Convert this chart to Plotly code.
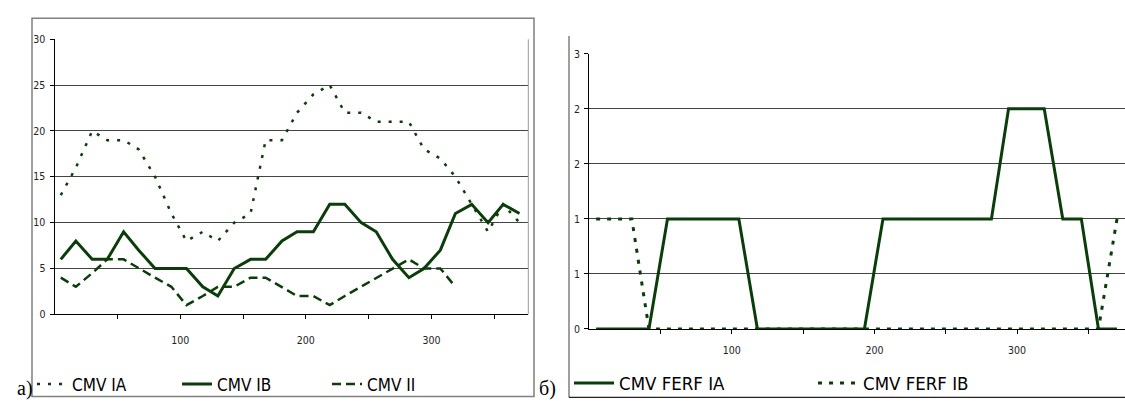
import plotly.graph_objects as go

# ---------------- data ----------------
DAYS = [5, 17, 30, 42, 55, 67, 80, 93, 105, 118, 130, 143, 156, 168, 181,
        193, 206, 219, 231, 244, 256, 269, 282, 294, 307, 319, 332, 345, 357, 370]

CMV_IA = [13, 16, 20, 19, 19, 18, 15, 11, 8, 9, 8, 10, 11, 19, 19,
          22, 24, 25, 22, 22, 21, 21, 21, 18, 17, 15, 12, 9, 12, 10]
CMV_IB = [6, 8, 6, 6, 9, 7, 5, 5, 5, 3, 2, 5, 6, 6, 8,
          9, 9, 12, 12, 10, 9, 6, 4, 5, 7, 11, 12, 10, 12, 11]
CMV_II = [4, 3, 4.5, 6, 6, 5, 4, 3, 1, 2, 3, 3, 4, 4, 3,
          2, 2, 1, 2, 3, 4, 5, 6, 5, 5, 3]

FERF_IA = [0, 0, 0, 0, 1, 1, 1, 1, 1, 0, 0, 0, 0, 0, 0,
           0, 1, 1, 1, 1, 1, 1, 1, 2, 2, 2, 1, 1, 0, 0]
FERF_IB = [1, 1, 1, 0, 0, 0, 0, 0, 0, 0, 0, 0, 0, 0, 0,
           0, 0, 0, 0, 0, 0, 0, 0, 0, 0, 0, 0, 0, 0, 1]

X_TICKS = [50, 100, 150, 200, 250, 300, 350]
X_TICK_TEXT = ["", "100", "", "200", "", "300", ""]
Y1_TICKS = [0, 5, 10, 15, 20, 25, 30]
Y2_TICKS = [0, 0.5, 1, 1.5, 2, 2.5]
Y2_TICK_TEXT = ["0", "1", "1", "2", "2", "3"]

# ---------------- style ----------------
W, H = 1125, 407
GREEN = "#0b3d0b"
NARROW = "Liberation Sans Narrow, Arial Narrow, DejaVu Sans Condensed, Liberation Sans, Arial"
SERIF = "Liberation Serif, Times New Roman, serif"


def px(x):
    return x / W


def py(y):
    return 1 - y / H


fig = go.Figure()

fig.add_trace(go.Scatter(x=DAYS, y=CMV_IA, mode="lines", name="CMV IA",
                         line=dict(color=GREEN, width=2.5, dash="3px,8px"),
                         xaxis="x", yaxis="y", legend="legend"))
fig.add_trace(go.Scatter(x=DAYS, y=CMV_IB, mode="lines", name="CMV IB",
                         line=dict(color=GREEN, width=3),
                         xaxis="x", yaxis="y", legend="legend2"))
fig.add_trace(go.Scatter(x=DAYS[:len(CMV_II)], y=CMV_II, mode="lines", name="CMV II",
                         line=dict(color=GREEN, width=2.5, dash="9px,5px"),
                         xaxis="x", yaxis="y", legend="legend3"))
fig.add_trace(go.Scatter(x=DAYS, y=FERF_IA, mode="lines", name="CMV FERF IA",
                         line=dict(color=GREEN, width=3),
                         xaxis="x2", yaxis="y2", legend="legend4"))
fig.add_trace(go.Scatter(x=DAYS, y=FERF_IB, mode="lines", name="CMV FERF IB",
                         line=dict(color=GREEN, width=3, dash="4px,7px"),
                         xaxis="x2", yaxis="y2", legend="legend5"))

tickfont = dict(family=NARROW, size=10.5, color="#222")
axis_common = dict(ticks="outside", ticklen=4, tickcolor="#000", showline=True,
                   linecolor="#000", linewidth=1, zeroline=False, tickfont=tickfont)


def leg(x, y, size, iw):
    return dict(x=px(x), y=py(y), xanchor="left", yanchor="middle",
                orientation="h", font=dict(family=NARROW, size=size, color="#000"),
                bgcolor="rgba(0,0,0,0)", borderwidth=0, itemwidth=iw)


fig.update_layout(
    width=W, height=H, autosize=False,
    margin=dict(l=0, r=0, t=0, b=0),
    paper_bgcolor="white", plot_bgcolor="white",
    showlegend=True,
    xaxis=dict(domain=[px(54.5), px(528.3)], range=[0, 377], anchor="y",
               tickvals=X_TICKS, ticktext=X_TICK_TEXT, showgrid=False,
               ticklabelstandoff=12, **axis_common),
    yaxis=dict(domain=[1 - 317.7 / H, 1 - 34.3 / H], range=[0, 30], anchor="x",
               tickvals=Y1_TICKS, showgrid=True, gridcolor="#444", gridwidth=1,
               ticklabelstandoff=2, **axis_common),
    xaxis2=dict(domain=[px(589), 1.0], range=[0, 375.6], anchor="y2",
                tickvals=X_TICKS, ticktext=X_TICK_TEXT, showgrid=False,
                ticklabelstandoff=8, **axis_common),
    yaxis2=dict(domain=[1 - 332.7 / H, 1 - 49.3 / H], range=[0, 2.5], anchor="x2",
                tickvals=Y2_TICKS, ticktext=Y2_TICK_TEXT, showgrid=True,
                gridcolor="#444", gridwidth=1, ticklabelstandoff=2, **axis_common),
    legend=leg(32, 390, 17, 30),
    legend2=leg(177, 390, 17, 30),
    legend3=leg(327, 390, 17, 30),
    legend4=leg(569, 389, 18.5, 40),
    legend5=leg(813, 389, 18.5, 40),
)

shapes = [
    # left chart outer frame
    dict(type="rect", xref="paper", yref="paper", x0=px(32), x1=px(534),
         y0=py(402.3), y1=py(12.7), line=dict(color="#7f7f7f", width=1.5)),
    # left plot-area right border
    dict(type="line", xref="paper", yref="paper", x0=px(528.3), x1=px(528.3),
         y0=py(317.7), y1=py(34.3), line=dict(color="#9a9a9a", width=1)),
    # right chart frame (left and bottom edges)
    dict(type="line", xref="paper", yref="paper", x0=px(569), x1=px(569),
         y0=py(403.3), y1=py(31), line=dict(color="#7f7f7f", width=1.5)),
    dict(type="line", xref="paper", yref="paper", x0=px(569), x1=1,
         y0=py(403.3), y1=py(403.3), line=dict(color="#222", width=1.2)),
]
fig.update_layout(shapes=shapes)

fig.add_annotation(text="а)", xref="paper", yref="paper", x=px(16), y=py(407),
                   xanchor="left", yanchor="bottom", showarrow=False, borderpad=0,
                   font=dict(family=SERIF, size=20, color="#000"))
fig.add_annotation(text="б)", xref="paper", yref="paper", x=px(538), y=py(407),
                   xanchor="left", yanchor="bottom", showarrow=False, borderpad=0,
                   font=dict(family=SERIF, size=20, color="#000"))

fig.write_html("out.html")
